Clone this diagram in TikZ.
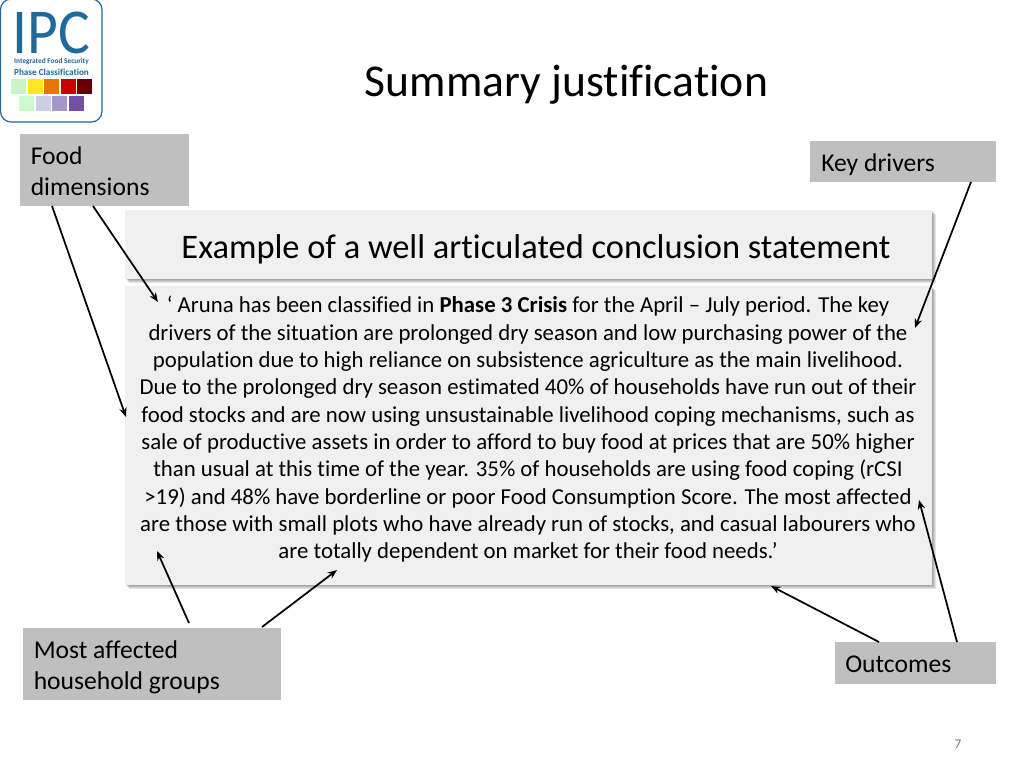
\documentclass[tikz,border=0pt]{standalone}
\usepackage{fontspec}
\setmainfont[Ligatures=NoCommon]{Carlito}
\usetikzlibrary{arrows.meta}
\definecolor{ipcblue}{RGB}{31,105,155}
\definecolor{labelgray}{RGB}{191,191,191}
\definecolor{panelgray}{RGB}{240,240,240}
\definecolor{sa}{HTML}{C8F5C8}\definecolor{sb}{HTML}{FFE61E}\definecolor{sc}{HTML}{E67800}
\definecolor{sd}{HTML}{C80000}\definecolor{se}{HTML}{640000}\definecolor{sf}{HTML}{CDFACD}
\definecolor{sg}{HTML}{CDCDE6}\definecolor{sh}{HTML}{A397C9}\definecolor{si}{HTML}{7350A5}
\tikzset{
  labeltext/.style={anchor=west,font=\fontsize{19.2pt}{23.3pt}\selectfont,align=left,inner sep=0pt},
  panel/.style={fill=panelgray,draw=none,inner sep=0pt},
  pointer/.style={-{Stealth[length=7pt,width=5.5pt]},line width=1.3pt}
}
\begin{document}
\begin{tikzpicture}[x=0.75pt,y=-0.75pt]
\useasboundingbox (0,0) rectangle (1024,768);
% logo
\draw [ipcblue,line width=0.9pt,fill=white,rounded corners=8pt] (0.5,-1)--(102,-1)--(102,122)--(0.5,122)--cycle;
\node [text=ipcblue,font=\fontsize{48pt}{50pt}\selectfont,inner sep=0pt,xscale=0.93] (logoipc) at (51.5,33) {IPC};
\node [text=ipcblue,font=\fontsize{5.5pt}{7pt}\bfseries\selectfont,inner sep=0pt] (logoline) at (51.5,61.5) {Integrated Food Security};
\node [text=ipcblue,font=\fontsize{6.9pt}{8pt}\bfseries\selectfont,inner sep=0pt] (logophase) at (51.5,72.5) {Phase Classification};
\foreach \xpos/\ypos/\col in {11/79/sa,28/79/sb,44/79/sc,61/79/sd,77/79/se,19/96/sf,36/96/sg,52/96/sh,69/96/si}
  \fill [\col] (\xpos,\ypos) rectangle +(14.5,14.5);
% title
\node [font=\fontsize{34.2pt}{38pt}\selectfont,inner sep=0pt] (title) at (566.5,85) {Summary justification};
% panel shadows
\foreach \off in {1,2,3,4} {
  \fill [black,opacity=0.1] (125+\off,210+\off) rectangle (932+\off,279+\off);
  \fill [black,opacity=0.1] (125+\off,286+\off) rectangle (932+\off,585+\off);
}
% panels
\node [panel,minimum width=605.25pt,minimum height=51.75pt] (headpanel) at (528.5,244.5) {};
\node [font=\fontsize{25.8pt}{30pt}\selectfont,inner sep=0pt] (headtext) at (536,249) {Example of a well articulated conclusion statement};
\node [panel,minimum width=605.25pt,minimum height=224.25pt] (bodypanel) at (528.5,435.5) {};
\node [align=center,inner sep=0pt,font=\fontsize{17.1pt}{20.5pt}\selectfont] (bodytext) at (528,429.5) {‘ Aruna has been classified in \textbf{Phase 3 Crisis} for the April – July period. The key\\
drivers of the situation are prolonged dry season and low purchasing power of the\\
population due to high reliance on subsistence agriculture as the main livelihood.\\
Due to the prolonged dry season estimated 40\% of households have run out of their\\
food stocks and are now using unsustainable livelihood coping mechanisms, such as\\
sale of productive assets in order to afford to buy food at prices that are 50\% higher\\
than usual at this time of the year. 35\% of households are using food coping (rCSI\\
>19) and 48\% have borderline or poor Food Consumption Score. The most affected\\
are those with small plots who have already run of stocks, and casual labourers who\\
are totally dependent on market for their food needs.’};
% labels
\fill [labelgray] (20,134) rectangle (189,206);
\node [labeltext] (fooddim) at (30.5,171.5) {Food\\dimensions};
\fill [labelgray] (810,141) rectangle (996,182);
\node [labeltext] (keydrivers) at (821,165) {Key drivers};
\fill [labelgray] (23,628) rectangle (281,700);
\node [labeltext] (affected) at (33.5,667.5) {Most affected\\household groups};
\fill [labelgray] (834.5,642) rectangle (996,683.5);
\node [labeltext] (outcomes) at (845,664.5) {Outcomes};
% arrow ends
\coordinate (fda) at (52,206);
\coordinate (fdb) at (93,206);
\coordinate (fdaend) at (126,417);
\coordinate (fdbend) at (158,302);
\coordinate (kda) at (971,182);
\coordinate (kdaend) at (915,328);
\coordinate (aga) at (189,623);
\coordinate (agb) at (262,627);
\coordinate (agaend) at (157,551);
\coordinate (agbend) at (337,570);
\coordinate (oca) at (957,642);
\coordinate (ocb) at (879,642);
\coordinate (ocaend) at (919,500);
\coordinate (ocbend) at (771,586);
\draw [pointer] (fda)--(fdaend);
\draw [pointer] (fdb)--(fdbend);
\draw [pointer] (kda)--(kdaend);
\draw [pointer] (aga)--(agaend);
\draw [pointer] (agb)--(agbend);
\draw [pointer] (oca)--(ocaend);
\draw [pointer] (ocb)--(ocbend);
% page number
\node [text=black!55,font=\fontsize{10pt}{12pt}\selectfont,inner sep=0pt] (pagenum) at (958,744) {7};
\end{tikzpicture}
\end{document}
